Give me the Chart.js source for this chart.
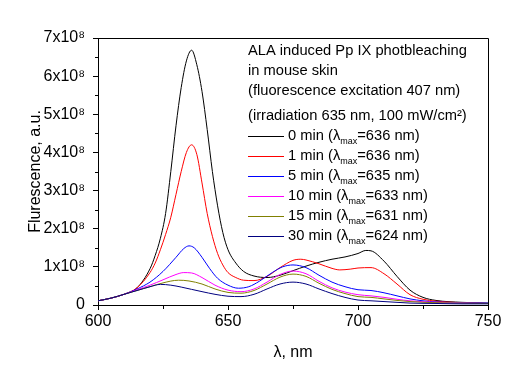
<!DOCTYPE html>
<html>
<head>
<meta charset="utf-8">
<script src="https://cdn.jsdelivr.net/npm/chart.js@4.4.1/dist/chart.umd.min.js"></script>
<style>
html, body { margin: 0; padding: 0; background: #fff; }
</style>
</head>
<body>
<canvas id="myChart" width="528" height="387"></canvas>
<script>
// Datos (fluorescencia en unidades de 1e8)
const wl0 = [600, 605, 610, 615, 620, 622, 624, 626, 628, 630, 632, 634, 636, 638, 640, 642, 644, 646, 648, 650, 653, 656, 660, 665, 670, 675, 680, 685, 690, 695, 700, 703, 705, 710, 715, 720, 725, 730, 740, 750];
const f0 = [0.11, 0.18, 0.28, 0.45, 0.95, 1.3, 1.75, 2.4, 3.5, 4.7, 5.7, 6.4, 6.68, 6.3, 5.6, 4.6, 3.5, 2.6, 1.9, 1.45, 1.1, 0.88, 0.76, 0.72, 0.78, 0.9, 1.02, 1.12, 1.2, 1.26, 1.35, 1.43, 1.42, 1.15, 0.75, 0.39, 0.2, 0.12, 0.07, 0.05];

const wl1 = [600, 605, 610, 615, 620, 622, 624, 626, 628, 630, 632, 634, 636, 638, 640, 642, 644, 646, 648, 650, 653, 656, 660, 665, 670, 675, 678, 680, 685, 690, 693, 697, 700, 705, 710, 715, 720, 725, 730, 740, 750];
const f1 = [0.11, 0.18, 0.28, 0.45, 0.85, 1.1, 1.45, 1.85, 2.3, 2.9, 3.5, 4.0, 4.2, 3.95, 3.2, 2.4, 1.8, 1.35, 1.05, 0.85, 0.72, 0.65, 0.64, 0.75, 0.98, 1.17, 1.2, 1.18, 1.08, 0.96, 0.92, 0.94, 0.97, 0.98, 0.82, 0.55, 0.27, 0.15, 0.1, 0.06, 0.04];

const wl5 = [600, 605, 610, 615, 620, 625, 630, 633, 635, 637, 640, 643, 646, 650, 654, 658, 662, 667, 671, 675, 680, 685, 690, 695, 700, 705, 710, 715, 720, 725, 730, 740, 750];
const f5 = [0.11, 0.18, 0.28, 0.42, 0.6, 0.88, 1.25, 1.48, 1.55, 1.5, 1.25, 0.95, 0.7, 0.52, 0.44, 0.48, 0.62, 0.85, 1.0, 1.05, 0.98, 0.78, 0.6, 0.48, 0.4, 0.38, 0.32, 0.24, 0.16, 0.11, 0.08, 0.06, 0.05];

const wl10 = [600, 605, 610, 615, 620, 625, 630, 633, 636, 640, 645, 650, 655, 660, 665, 670, 675, 680, 685, 690, 695, 700, 705, 710, 715, 720, 730, 740, 750];
const f10 = [0.11, 0.18, 0.28, 0.4, 0.52, 0.66, 0.8, 0.85, 0.84, 0.72, 0.52, 0.39, 0.35, 0.42, 0.6, 0.8, 0.89, 0.82, 0.62, 0.45, 0.34, 0.27, 0.24, 0.2, 0.15, 0.11, 0.07, 0.05, 0.04];

const wl15 = [600, 605, 610, 615, 620, 625, 631, 635, 640, 645, 650, 655, 660, 665, 670, 675, 680, 685, 690, 695, 700, 705, 710, 715, 720, 730, 740, 750];
const f15 = [0.11, 0.18, 0.28, 0.38, 0.48, 0.58, 0.65, 0.63, 0.55, 0.42, 0.33, 0.31, 0.38, 0.55, 0.73, 0.81, 0.75, 0.57, 0.41, 0.3, 0.22, 0.2, 0.16, 0.12, 0.09, 0.06, 0.05, 0.04];

const wl30 = [600, 605, 610, 615, 620, 624, 628, 632, 636, 640, 645, 650, 655, 660, 665, 670, 675, 680, 685, 690, 695, 700, 705, 710, 715, 720, 730, 740, 750];
const f30 = [0.11, 0.18, 0.28, 0.38, 0.48, 0.54, 0.52, 0.47, 0.41, 0.35, 0.28, 0.23, 0.22, 0.28, 0.42, 0.55, 0.6, 0.55, 0.42, 0.3, 0.2, 0.13, 0.11, 0.09, 0.07, 0.05, 0.04, 0.03, 0.03];

const times = ["0 min", "1 min", "5 min", "10 min", "15 min", "30 min"];
const lambdaMax = [636, 636, 635, 633, 631, 624];
const colors = ["#000000", "#ff0000", "#0000ff", "#ff00ff", "#808000", "#000080"];
const titleLines = [
    "ALA induced Pp IX photbleaching",
    "in mouse skin",
    "(fluorescence excitation 407 nm)",
    "(irradiation 635 nm, 100 mW/cm\u00b2)"
];

const allWl = [wl0, wl1, wl5, wl10, wl15, wl30];
const allF = [f0, f1, f5, f10, f15, f30];

const FONT = "'Liberation Sans', Arial, sans-serif";

// Marco, ticks menores y leyenda
const framePlugin = {
    id: "frame",
    afterDraw(chart) {
        const ctx = chart.ctx;
        const a = chart.chartArea;
        const xs = chart.scales.x;
        const ys = chart.scales.y;
        ctx.save();
        ctx.strokeStyle = "#000";
        ctx.lineWidth = 1;
        ctx.beginPath();
        ctx.moveTo(a.left, a.top + 0.5);
        ctx.lineTo(a.right + 0.5, a.top + 0.5);
        ctx.lineTo(a.right + 0.5, a.bottom);
        ctx.stroke();

        // ticks menores
        ctx.beginPath();
        for (let v = 625; v < 750; v += 50) {
            const px = Math.round(xs.getPixelForValue(v)) + 0.5;
            ctx.moveTo(px, a.bottom);
            ctx.lineTo(px, a.bottom + 4);
        }
        for (let v = 0.5; v < 7; v += 1) {
            const py = Math.round(ys.getPixelForValue(v)) + 0.5;
            ctx.moveTo(a.left, py);
            ctx.lineTo(a.left - 3, py);
        }
        ctx.stroke();

        // leyenda
        ctx.fillStyle = "#000";
        ctx.textBaseline = "middle";
        const big = "14.7px " + FONT;
        ctx.font = big;
        const lx = a.left + 150;
        const titleY = [51, 71, 91, 116];
        titleLines.forEach((t, i) => ctx.fillText(t, lx, titleY[i]));

        times.forEach((t, i) => {
            const y = 136 + i * 20;
            ctx.strokeStyle = colors[i];
            ctx.beginPath();
            ctx.moveTo(lx, y + 0.5);
            ctx.lineTo(lx + 36, y + 0.5);
            ctx.stroke();
            let x = lx + 40;
            ctx.font = big;
            const s1 = t + " (\u03bb";
            ctx.fillText(s1, x, y);
            x += ctx.measureText(s1).width;
            ctx.font = "9px " + FONT;
            ctx.fillText("max", x, y + 6);
            x += ctx.measureText("max").width;
            ctx.font = big;
            ctx.fillText("=" + lambdaMax[i] + " nm)", x, y);
        });
        ctx.restore();
    }
};

const datasets = times.map((t, i) => ({
    label: t + " (\u03bbmax=" + lambdaMax[i] + " nm)",
    data: allWl[i].map((w, j) => ({ x: w, y: allF[i][j] })),
    borderColor: colors[i],
    borderWidth: 1,
    pointRadius: 0,
    fill: false,
    cubicInterpolationMode: "monotone"
}));

new Chart("myChart", {
    type: "line",
    data: { datasets: datasets.reverse() },
    options: {
        responsive: false,
        animation: false,
        layout: { padding: { top: 38, right: 40, left: 0, bottom: 0 } },
        plugins: {
            legend: { display: false },
            tooltip: { enabled: false }
        },
        scales: {
            x: {
                type: "linear",
                min: 600,
                max: 750,
                afterFit: (s) => { s.height = 82; },
                ticks: {
                    stepSize: 50,
                    color: "#000",
                    font: { family: FONT, size: 16 },
                    padding: 2,
                    maxRotation: 0
                },
                grid: { drawOnChartArea: false, tickLength: 5, color: "#000" },
                border: { color: "#000", width: 1 },
                title: {
                    display: true,
                    text: "\u03bb, nm",
                    color: "#000",
                    font: { family: FONT, size: 16 },
                    padding: { top: 4, bottom: 25 }
                }
            },
            y: {
                min: 0,
                max: 7,
                afterFit: (s) => { s.width = 98; },
                ticks: {
                    stepSize: 1,
                    color: "#000",
                    font: { family: FONT, size: 16 },
                    padding: 8,
                    callback: (v) => (v === 0 ? "0" : v + "x10\u2078")
                },
                grid: { drawOnChartArea: false, tickLength: 5, color: "#000" },
                border: { color: "#000", width: 1 },
                title: {
                    display: true,
                    text: "Flurescence, a.u.",
                    color: "#000",
                    font: { family: FONT, size: 16 },
                    padding: { top: 26, bottom: 0 }
                }
            }
        }
    },
    plugins: [framePlugin]
});
</script>
</body>
</html>
